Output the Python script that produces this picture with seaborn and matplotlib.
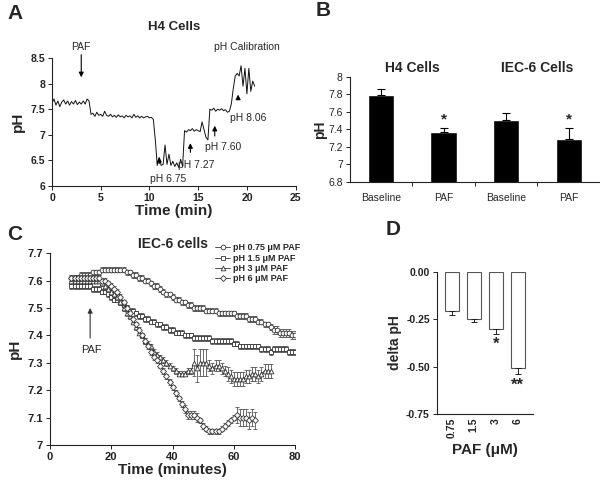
import numpy as np
import pandas as pd
import matplotlib
matplotlib.use("Agg")
import matplotlib.pyplot as plt
import seaborn as sns

# ---- Panel A: H4 cell pH trace (sampled every 0.2 min) ----
trace_time = np.round(np.arange(0, 20.81, 0.2), 1)
trace_ph = [7.62, 7.70, 7.58, 7.66, 7.55, 7.64, 7.68, 7.60, 7.66, 7.58,
            7.65, 7.60, 7.67, 7.59, 7.64, 7.60, 7.66, 7.60, 7.70, 7.66,
            7.40, 7.42, 7.36, 7.44, 7.38, 7.40, 7.36, 7.46, 7.38, 7.36,
            7.40, 7.35, 7.38, 7.34, 7.39, 7.35, 7.37, 7.33, 7.38, 7.35,
            7.37, 7.33, 7.40, 7.34, 7.37, 7.33, 7.36, 7.33, 7.35, 7.36,
            7.33, 7.34, 7.30, 6.90, 6.40, 6.55, 6.40, 6.42, 6.80, 6.42,
            6.62, 6.40, 6.48, 6.38, 6.45, 6.36, 6.52, 6.38, 7.08, 7.05,
            7.10, 7.08, 7.12, 7.07, 7.10, 7.08, 7.06, 7.25, 7.10, 6.95,
            6.90, 7.50, 7.48, 7.52, 7.46, 7.50, 7.48, 7.51, 7.47, 7.49,
            7.44, 7.46, 7.60, 7.90, 8.15, 8.20, 8.15, 8.35, 7.95, 8.30,
            7.80, 8.30, 7.85, 8.05, 7.95]
calib_labels = ["pH 6.75", "pH 7.27", "pH 7.60", "pH 8.06"]
calib_times = [11.0, 14.2, 16.7, 19.1]

# ---- Panel B: baseline vs PAF ----
b_labels = ["Baseline", "PAF", "Baseline", "PAF"]
b_means = [7.79, 7.37, 7.51, 7.29]
b_errs = [0.07, 0.05, 0.08, 0.13]

# ---- Panel C: IEC-6 time course (1 min sampling) ----
c_names = ["pH 0.75 \u03bcM PAF", "pH 1.5 \u03bcM PAF", "pH 3 \u03bcM PAF", "pH 6 \u03bcM PAF"]
ph_075 = [7.61, 7.61, 7.61, 7.62, 7.62, 7.62, 7.62, 7.63, 7.63, 7.63,
          7.64, 7.64, 7.64, 7.64, 7.64, 7.64, 7.64, 7.64, 7.63, 7.63,
          7.62, 7.62, 7.61, 7.61, 7.60, 7.60, 7.59, 7.58, 7.58, 7.57,
          7.56, 7.55, 7.55, 7.54, 7.53, 7.53, 7.52, 7.52, 7.51, 7.51,
          7.50, 7.50, 7.50, 7.50, 7.49, 7.49, 7.49, 7.49, 7.48, 7.48,
          7.48, 7.48, 7.48, 7.48, 7.47, 7.47, 7.47, 7.47, 7.46, 7.46,
          7.46, 7.45, 7.45, 7.44, 7.44, 7.43, 7.42, 7.42, 7.41, 7.41,
          7.41, 7.41, 7.40, 7.40]
ph_15 = [7.58, 7.58, 7.58, 7.58, 7.58, 7.58, 7.58, 7.57, 7.57, 7.57,
         7.56, 7.56, 7.55, 7.54, 7.53, 7.53, 7.52, 7.51, 7.50, 7.49,
         7.49, 7.48, 7.47, 7.47, 7.46, 7.46, 7.45, 7.45, 7.44, 7.44,
         7.43, 7.43, 7.42, 7.42, 7.41, 7.41, 7.41, 7.40, 7.40, 7.40,
         7.39, 7.39, 7.39, 7.39, 7.39, 7.39, 7.38, 7.38, 7.38, 7.38,
         7.38, 7.38, 7.38, 7.37, 7.37, 7.36, 7.36, 7.36, 7.36, 7.36,
         7.36, 7.36, 7.35, 7.35, 7.35, 7.34, 7.35, 7.35, 7.35, 7.35,
         7.35, 7.34, 7.34, 7.34]
ph_3 = [7.60, 7.60, 7.60, 7.60, 7.60, 7.60, 7.60, 7.60, 7.60, 7.60,
        7.59, 7.58, 7.57, 7.56, 7.55, 7.54, 7.52, 7.50, 7.48, 7.47,
        7.45, 7.43, 7.41, 7.40, 7.38, 7.37, 7.36, 7.34, 7.33, 7.32,
        7.31, 7.30, 7.29, 7.28, 7.27, 7.26, 7.26, 7.26, 7.27, 7.27,
        7.30, 7.28, 7.30, 7.30, 7.30, 7.29, 7.28, 7.29, 7.29, 7.28,
        7.27, 7.26, 7.25, 7.24, 7.24, 7.24, 7.24, 7.25, 7.25, 7.26,
        7.26, 7.25, 7.26, 7.27, 7.27, 7.27]
ph_6 = [7.61, 7.61, 7.61, 7.61, 7.61, 7.61, 7.61, 7.61, 7.61, 7.61,
        7.60, 7.60, 7.59, 7.58, 7.57, 7.56, 7.54, 7.52, 7.50, 7.48,
        7.46, 7.44, 7.42, 7.40, 7.38, 7.36, 7.34, 7.32, 7.31, 7.29,
        7.27, 7.25, 7.23, 7.21, 7.19, 7.17, 7.15, 7.13, 7.11, 7.11,
        7.11, 7.10, 7.09, 7.07, 7.06, 7.05, 7.05, 7.05, 7.05, 7.06,
        7.07, 7.08, 7.09, 7.10, 7.11, 7.10, 7.10, 7.10, 7.09, 7.10,
        7.09]
err_075 = [0.01] * 66 + [0.015] * 8
err_15 = [0.01] * 74
err_3 = [0.01] * 40 + [0.05] * 5 + [0.02] * 6 + [0.025] * 15
err_6 = [0.01] * 37 + [0.015] * 5 + [0.01] * 12 + [0.03] * 7
c_series = [ph_075, ph_15, ph_3, ph_6]
c_errs = [err_075, err_15, err_3, err_6]
c_markers = ["o", "s", "^", "D"]

# ---- Panel D: delta pH vs PAF dose ----
d_doses = ["0.75", "1.5", "3", "6"]
d_delta = [-0.207, -0.251, -0.302, -0.51]
d_errs = [0.021, 0.012, 0.028, 0.031]

sns.set_style("ticks")
plt.rcParams["font.family"] = ["Liberation Sans", "DejaVu Sans"]

fig = plt.figure(figsize=(6, 4.84), dpi=100)
ax_a = fig.add_axes([0.0867, 0.616, 0.406, 0.264])
ax_b = fig.add_axes([0.583, 0.624, 0.417, 0.217])
ax_c = fig.add_axes([0.0833, 0.0806, 0.4087, 0.3964])
ax_d = fig.add_axes([0.728, 0.145, 0.160, 0.293])

for ax in (ax_a, ax_b, ax_c, ax_d):
    sns.despine(ax=ax)
    for s in ("left", "bottom"):
        ax.spines[s].set_linewidth(0.8)
        ax.spines[s].set_color("#222222")
    ax.tick_params(length=3, width=0.7, pad=2, colors="#222222")

# Panel A
sns.lineplot(x=trace_time, y=trace_ph, ax=ax_a, color="#111111", lw=0.7)
ax_a.set_xlim(0, 25)
ax_a.set_ylim(6, 8.5)
ax_a.set_xticks([0, 5, 10, 15, 20, 25])
ax_a.set_yticks([6, 6.5, 7, 7.5, 8, 8.5])
ax_a.set_yticklabels(["6", "6.5", "7", "7.5", "8", "8.5"])
for lab in ax_a.get_xticklabels() + ax_a.get_yticklabels():
    lab.set_fontsize(7.5)
    lab.set_fontweight("bold")
ax_a.set_xlabel("Time (min)", fontsize=11, fontweight="bold", labelpad=1)
ax_a.set_ylabel("pH", fontsize=11, fontweight="bold", labelpad=4)
ax_a.set_title("H4 Cells", fontsize=9.5, fontweight="bold", pad=20)
ax_a.annotate("", xy=(3.0, 8.07), xytext=(3.0, 8.62),
              arrowprops=dict(arrowstyle="-|>", color="black", lw=0.8, mutation_scale=7),
              annotation_clip=False)
ax_a.text(3.0, 8.72, "PAF", ha="center", va="center", fontsize=7.5)
ax_a.text(20.0, 8.72, "pH Calibration", ha="center", va="center", fontsize=7.5)
arrow_tips = [6.62, 6.89, 7.23, 7.84]
arrow_tails = [6.38, 6.60, 6.92, 7.67]
label_pos = [(11.9, 6.14), (14.8, 6.40), (17.6, 6.76), (20.1, 7.33)]
for lab, t, tip, tail, (lx, ly) in zip(calib_labels, calib_times, arrow_tips, arrow_tails, label_pos):
    ax_a.annotate("", xy=(t, tip), xytext=(t, tail),
                  arrowprops=dict(arrowstyle="-|>", color="black", lw=0.8, mutation_scale=7))
    ax_a.text(lx, ly, lab, ha="center", va="center", fontsize=7.5)

# Panel B
b_df = pd.DataFrame({"pos": range(4), "ph": b_means})
sns.barplot(data=b_df, x="pos", y="ph", ax=ax_b, color="black", width=0.42,
            native_scale=True, errorbar=None, bottom=0)
ax_b.errorbar(range(4), b_means, yerr=[[0] * 4, b_errs], fmt="none", ecolor="black",
              elinewidth=0.8, capsize=3, capthick=0.8)
ax_b.set_ylim(6.8, 8)
ax_b.set_xlim(-0.5, 3.5)
ax_b.set_yticks([6.8, 7, 7.2, 7.4, 7.6, 7.8, 8])
ax_b.set_yticklabels(["6.8", "7", "7.2", "7.4", "7.6", "7.8", "8"], fontsize=7.5)
ax_b.set_xticks([0.5, 1.5, 2.5])
ax_b.set_xticklabels([])
ax_b.set_xticks(range(4), minor=True)
ax_b.set_xticklabels(b_labels, minor=True, fontsize=7.5)
ax_b.tick_params(axis="x", which="minor", length=0, pad=8)
ax_b.set_xlabel("")
ax_b.set_ylabel("pH", fontsize=10, fontweight="bold", labelpad=1)
ax_b.text(0.5, 8.1, "H4 Cells", ha="center", va="center", fontsize=10, fontweight="bold")
ax_b.text(2.5, 8.1, "IEC-6 Cells", ha="center", va="center", fontsize=10, fontweight="bold")
for i in (1, 3):
    ax_b.text(i, b_means[i] + b_errs[i] + 0.09, "*", ha="center", va="center",
              fontsize=11, fontweight="bold")

# Panel C
for name, vals, errs, mk in zip(c_names, c_series, c_errs, c_markers):
    minutes = np.arange(7, 7 + len(vals))
    ax_c.errorbar(minutes, vals, yerr=errs, fmt="none", ecolor="#555555",
                  elinewidth=0.6, capsize=1.5, capthick=0.6)
    sns.lineplot(x=minutes, y=vals, ax=ax_c, color="#333333", lw=0.6, marker=mk,
                 markersize=3.4 if mk != "D" else 3.0, markerfacecolor="white",
                 markeredgecolor="#333333", markeredgewidth=0.6, label=name)
ax_c.set_xlim(0, 80)
ax_c.set_ylim(7, 7.7)
ax_c.set_xticks([0, 20, 40, 60, 80])
ax_c.set_yticks([7, 7.1, 7.2, 7.3, 7.4, 7.5, 7.6, 7.7])
ax_c.set_yticklabels(["7", "7.1", "7.2", "7.3", "7.4", "7.5", "7.6", "7.7"])
for lab in ax_c.get_xticklabels() + ax_c.get_yticklabels():
    lab.set_fontsize(8)
    lab.set_fontweight("bold")
ax_c.set_xlabel("Time (minutes)", fontsize=11, fontweight="bold", labelpad=1)
ax_c.set_ylabel("pH", fontsize=11, fontweight="bold", labelpad=4)
ax_c.set_title("IEC-6 cells", fontsize=10, fontweight="bold", pad=4)
ax_c.annotate("", xy=(13.1, 7.51), xytext=(13.1, 7.38),
              arrowprops=dict(arrowstyle="-|>", color="#333333", lw=0.8, mutation_scale=7))
ax_c.text(13.6, 7.345, "PAF", ha="center", va="center", fontsize=8)
leg = ax_c.legend(loc="upper left", bbox_to_anchor=(0.66, 1.07), frameon=False,
                  prop=dict(size=6.5, weight="bold"), handlelength=1.6,
                  handletextpad=0.3, labelspacing=0.15, borderaxespad=0)

# Panel D
d_df = pd.DataFrame({"dose": d_doses, "delta": d_delta})
sns.barplot(data=d_df, x="dose", y="delta", ax=ax_d, color="white", width=0.64,
            edgecolor="#555555", linewidth=0.8, errorbar=None)
ax_d.errorbar(range(4), d_delta, yerr=[d_errs, [0] * 4], fmt="none", ecolor="#222222",
              elinewidth=0.7, capsize=2.5, capthick=0.7)
ax_d.set_xlim(-0.68, 3.68)
ax_d.set_ylim(-0.75, 0)
ax_d.set_yticks([0, -0.25, -0.5, -0.75])
ax_d.set_yticklabels(["0.00", "-0.25", "-0.50", "-0.75"])
ax_d.tick_params(axis="x", length=0, pad=3)
for lab in ax_d.get_xticklabels():
    lab.set_rotation(90)
for lab in ax_d.get_xticklabels() + ax_d.get_yticklabels():
    lab.set_fontsize(7.5)
    lab.set_fontweight("bold")
ax_d.set_xlabel("PAF (\u03bcM)", fontsize=11, fontweight="bold", labelpad=3)
ax_d.set_ylabel("delta pH", fontsize=10, fontweight="bold", labelpad=3)
ax_d.text(2, -0.38, "*", ha="center", va="center", fontsize=12, fontweight="bold")
ax_d.text(3, -0.60, "**", ha="center", va="center", fontsize=12, fontweight="bold")

# panel letters
for letter, (x, y) in zip("ABCD", [(0.025, 0.973), (0.538, 0.979), (0.025, 0.515), (0.655, 0.525)]):
    fig.text(x, y, letter, fontsize=15, fontweight="bold", ha="center", va="center")

fig.savefig("out.png", dpi=100)
